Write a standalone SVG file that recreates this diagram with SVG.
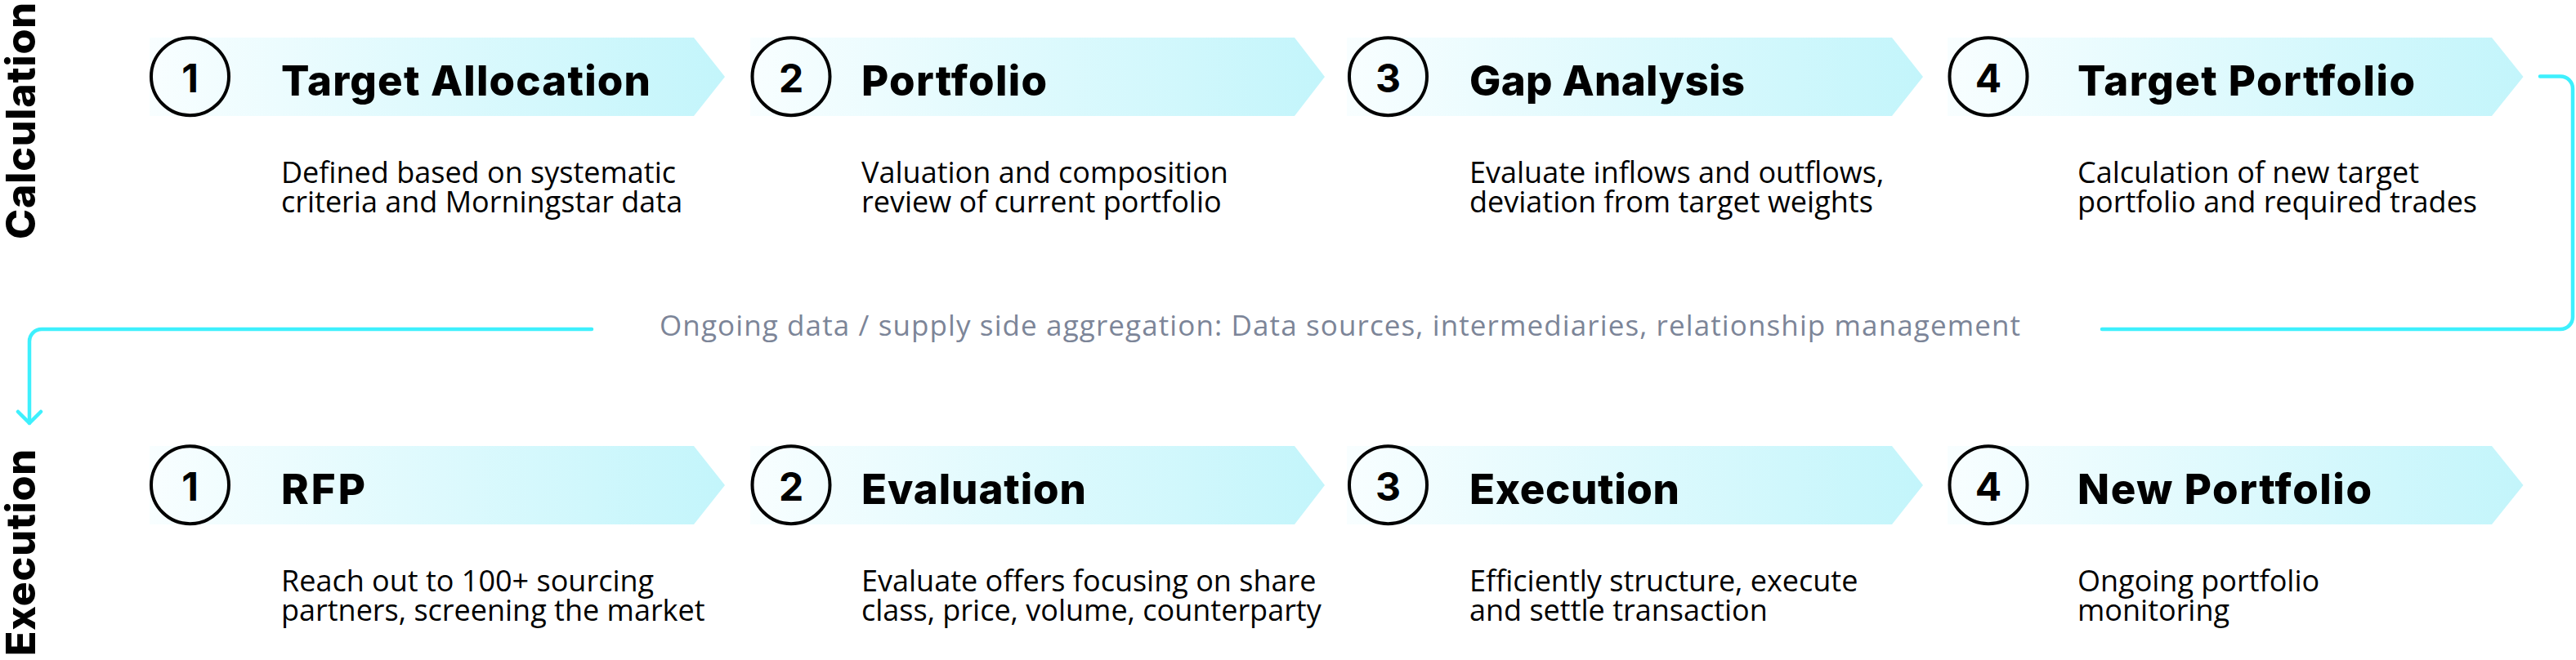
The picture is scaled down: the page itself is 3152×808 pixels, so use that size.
<svg xmlns="http://www.w3.org/2000/svg" width="3152" height="808" viewBox="0 0 3152 808">
<style>
.bg{fill:#ffffff}
.band{fill:url(#bandGrad)}
.ring{fill:none;stroke:#000;stroke-width:4}
.num{font-family:Inter,"Noto Sans",sans-serif;font-weight:700;font-size:48px;fill:#000;text-anchor:middle}
.head{font-family:Inter,"Noto Sans",sans-serif;font-weight:800;font-size:51px;fill:#000}
.desc{font-family:"Open Sans","Noto Sans",sans-serif;font-size:36px;fill:#000}
.side{font-family:Inter,"Noto Sans",sans-serif;font-weight:800;font-size:50px;fill:#000}
.mid{font-family:"Open Sans","Noto Sans",sans-serif;font-size:35px;fill:#7c8598;text-anchor:middle}
.conn{fill:none;stroke:#3ef0fd;stroke-width:4.5;stroke-linecap:round;stroke-linejoin:round}
</style>
<defs>
<linearGradient id="bandGrad" x1="0" y1="0" x2="1" y2="0">
<stop offset="0" stop-color="#f8feff"/>
<stop offset="1" stop-color="#c3f5fb"/>
</linearGradient>
<marker id="chev" viewBox="0 0 32 32" refX="28" refY="16" markerWidth="32" markerHeight="32" markerUnits="userSpaceOnUse" orient="auto" overflow="visible">
<path d="M14 2 L28 16 L14 30" fill="none" stroke="#3ef0fd" stroke-width="4.5" stroke-linecap="round" stroke-linejoin="round"/>
</marker>
</defs>
<rect class="bg" x="0" y="0" width="3152" height="808"/>

<g id="labels">
<text class="side" transform="translate(43,293) rotate(-90)" textLength="290" lengthAdjust="spacing">Calculation</text>
<text class="side" transform="translate(43,803) rotate(-90)" textLength="253" lengthAdjust="spacing">Execution</text>
</g>

<g id="connectors">
<path class="conn" d="M3108 93.5 H3133 A15 15 0 0 1 3148 108.5 V388 A15 15 0 0 1 3133 403 H2572"/>
<path class="conn" d="M724 403 H51 A15 15 0 0 0 36 418 V518" marker-end="url(#chev)"/>
<text class="mid" x="1639.5" y="411" textLength="1665" lengthAdjust="spacing">Ongoing data / supply side aggregation: Data sources, intermediaries, relationship management</text>
</g>

<g id="calc-1">
<polygon class="band" points="183,46 849,46 887,94 849,142 183,142"/>
<circle class="ring" cx="232.5" cy="93.7" r="47.5"/>
<text class="num" x="232.5" y="112.5">1</text>
<text class="head" x="344" y="117" textLength="452" lengthAdjust="spacing">Target Allocation</text>
<text class="desc" x="344" y="224">Defined based on systematic<tspan x="344" dy="36">criteria and Morningstar data</tspan></text>
</g>

<g id="calc-2">
<polygon class="band" points="918,46 1584,46 1621,94 1584,142 918,142"/>
<circle class="ring" cx="968" cy="93.7" r="47.5"/>
<text class="num" x="968" y="112.5">2</text>
<text class="head" x="1054" y="117" textLength="227" lengthAdjust="spacing">Portfolio</text>
<text class="desc" x="1054" y="224">Valuation and composition<tspan x="1054" dy="36">review of current portfolio</tspan></text>
</g>

<g id="calc-3">
<polygon class="band" points="1648,46 2315,46 2353,94 2315,142 1648,142"/>
<circle class="ring" cx="1698.5" cy="93.7" r="47.5"/>
<text class="num" x="1698.5" y="112.5">3</text>
<text class="head" x="1798" y="117" textLength="337" lengthAdjust="spacing">Gap Analysis</text>
<text class="desc" x="1798" y="224">Evaluate inflows and outflows,<tspan x="1798" dy="36">deviation from target weights</tspan></text>
</g>

<g id="calc-4">
<polygon class="band" points="2383,46 3049,46 3087.5,94 3049,142 2383,142"/>
<circle class="ring" cx="2433" cy="93.7" r="47.5"/>
<text class="num" x="2433" y="112.5">4</text>
<text class="head" x="2542" y="117" textLength="413" lengthAdjust="spacing">Target Portfolio</text>
<text class="desc" x="2542" y="224">Calculation of new target<tspan x="2542" dy="36">portfolio and required trades</tspan></text>
</g>

<g id="exec-1">
<polygon class="band" points="183,546 849,546 887,594 849,642 183,642"/>
<circle class="ring" cx="232.5" cy="593.7" r="47.5"/>
<text class="num" x="232.5" y="612.5">1</text>
<text class="head" x="344" y="617" textLength="103" lengthAdjust="spacing">RFP</text>
<text class="desc" x="344" y="724">Reach out to 100+ sourcing<tspan x="344" dy="36">partners, screening the market</tspan></text>
</g>

<g id="exec-2">
<polygon class="band" points="918,546 1584,546 1621,594 1584,642 918,642"/>
<circle class="ring" cx="968" cy="593.7" r="47.5"/>
<text class="num" x="968" y="612.5">2</text>
<text class="head" x="1054" y="617" textLength="275" lengthAdjust="spacing">Evaluation</text>
<text class="desc" x="1054" y="724">Evaluate offers focusing on share<tspan x="1054" dy="36">class, price, volume, counterparty</tspan></text>
</g>

<g id="exec-3">
<polygon class="band" points="1648,546 2315,546 2353,594 2315,642 1648,642"/>
<circle class="ring" cx="1698.5" cy="593.7" r="47.5"/>
<text class="num" x="1698.5" y="612.5">3</text>
<text class="head" x="1798" y="617" textLength="257" lengthAdjust="spacing">Execution</text>
<text class="desc" x="1798" y="724">Efficiently structure, execute<tspan x="1798" dy="36">and settle transaction</tspan></text>
</g>

<g id="exec-4">
<polygon class="band" points="2383,546 3049,546 3087.5,594 3049,642 2383,642"/>
<circle class="ring" cx="2433" cy="593.7" r="47.5"/>
<text class="num" x="2433" y="612.5">4</text>
<text class="head" x="2542" y="617" textLength="360" lengthAdjust="spacing">New Portfolio</text>
<text class="desc" x="2542" y="724">Ongoing portfolio<tspan x="2542" dy="36">monitoring</tspan></text>
</g>
</svg>
